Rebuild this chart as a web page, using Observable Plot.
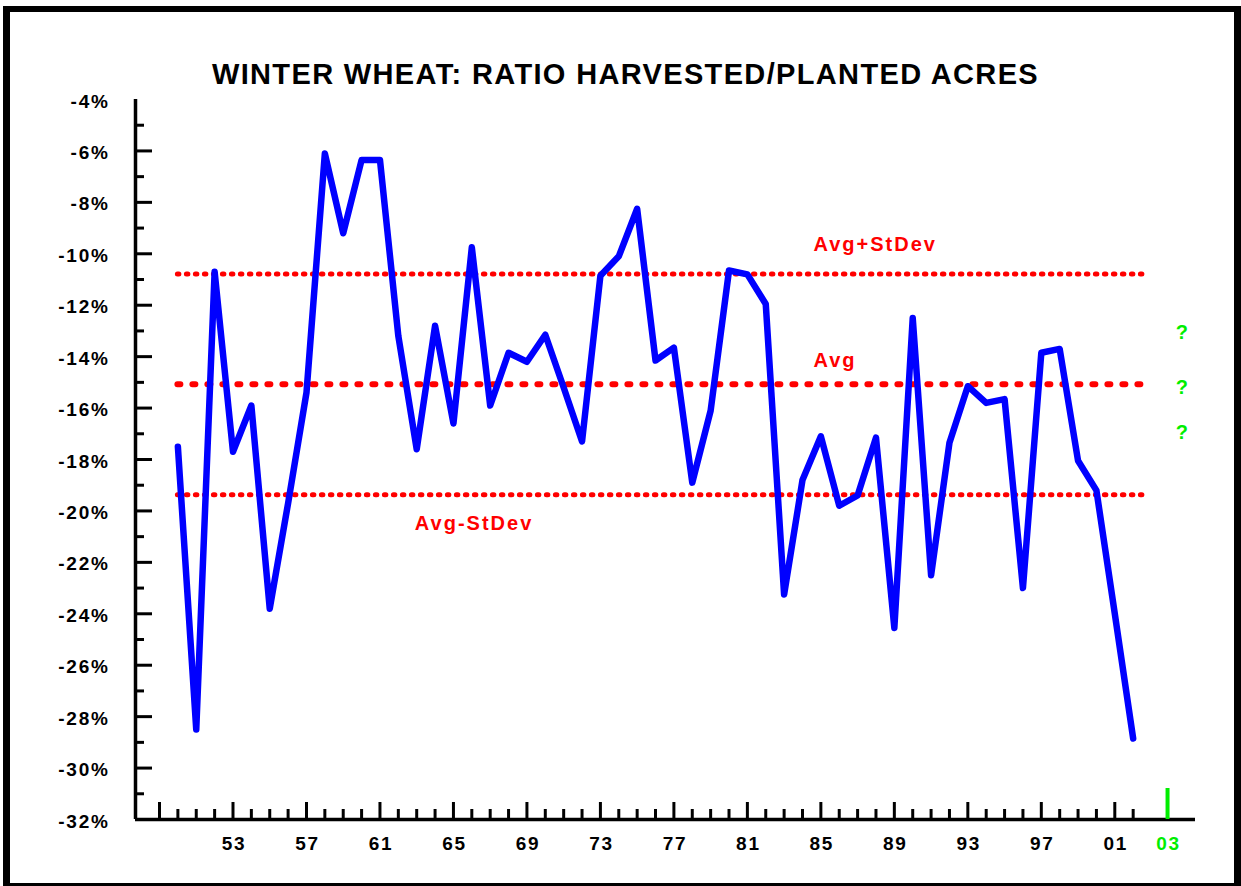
<!DOCTYPE html>
<html>
<head>
<meta charset="utf-8">
<script src="https://cdn.jsdelivr.net/npm/d3@7"></script>
<script src="https://cdn.jsdelivr.net/npm/@observablehq/plot@0.6"></script>
<style>
html, body { margin: 0; padding: 0; background: #fff; }
#wrap { position: relative; width: 1241px; height: 886px; overflow: hidden; background: #fff; }
#wrap svg { position: absolute; left: 0; top: 0; }
#border { position: absolute; left: 3px; top: 6px; width: 1238px; height: 880px; box-sizing: border-box;
  border-style: solid; border-color: #000; border-width: 6px 7px 3px 7px; pointer-events: none; }
</style>
</head>
<body>
<div id="wrap"><div id="border"></div></div>
<script>
// ---- Data ----
const titleText = "WINTER WHEAT: RATIO HARVESTED/PLANTED ACRES";

const years = [1950, 1951, 1952, 1953, 1954, 1955, 1956, 1957, 1958, 1959,
               1960, 1961, 1962, 1963, 1964, 1965, 1966, 1967, 1968, 1969,
               1970, 1971, 1972, 1973, 1974, 1975, 1976, 1977, 1978, 1979,
               1980, 1981, 1982, 1983, 1984, 1985, 1986, 1987, 1988, 1989,
               1990, 1991, 1992, 1993, 1994, 1995, 1996, 1997, 1998, 1999,
               2000, 2001, 2002];
const ratio = [-17.5, -28.5, -10.7, -17.7, -15.9, -23.8, -19.7, -15.4, -6.1, -9.2,
               -6.35, -6.35, -13.2, -17.6, -12.8, -16.6, -9.75, -15.9, -13.85, -14.2,
               -13.15, -15.2, -17.3, -10.85, -10.1, -8.25, -14.15, -13.65, -18.9, -16.1,
               -10.65, -10.8, -11.95, -23.25, -18.8, -17.1, -19.8, -19.4, -17.15, -24.55,
               -12.5, -22.5, -17.35, -15.15, -15.8, -15.65, -23.0, -13.85, -13.7, -18.05,
               -19.2, -24.0, -28.85];

const avgValue = -15.07;
const sdBandValues = [-10.79, -19.37];       // Avg+StDev, Avg-StDev
const refStart = 1950, refEnd = 2002.7;

const refLabels = ["Avg+StDev", "Avg", "Avg-StDev"];
const refLabelX = [1984.6, 1984.6, 1962.9];
const refLabelY = [-9.65, -14.14, -20.5];

const yLabelValues = [-32, -30, -28, -26, -24, -22, -20, -18, -16, -14, -12, -10, -8, -6, -4];
const yMajorTicks  = [-30, -28, -26, -24, -22, -20, -18, -16, -14, -12, -10, -8, -6];
const yMinorTicks  = [-31, -29, -27, -25, -23, -21, -19, -17, -15, -13, -11, -9, -7, -5];

const xMajorTicks  = [1949, 1953, 1957, 1961, 1965, 1969, 1973, 1977, 1981, 1985, 1989, 1993, 1997, 2001];
const xMinorTicks  = [1950, 1951, 1952, 1954, 1955, 1956, 1958, 1959, 1960, 1962, 1963, 1964,
                      1966, 1967, 1968, 1970, 1971, 1972, 1974, 1975, 1976, 1978, 1979, 1980,
                      1982, 1983, 1984, 1986, 1987, 1988, 1990, 1991, 1992, 1994, 1995, 1996,
                      1998, 1999, 2000, 2002];
const xLabelYears  = [1953, 1957, 1961, 1965, 1969, 1973, 1977, 1981, 1985, 1989, 1993, 1997, 2001];

const forecastYear = 2003;
const questionX = 2004.7;
const questionY = [-13.07, -15.21, -16.96];

// ---- Layout / style ----
const W = 1241, H = 886;
const mL = 135, mR = 46, mT = 99, mB = 67;
const frameW = W - mL - mR, frameH = H - mT - mB;
const FONT = "Liberation Sans, Arial, Helvetica, sans-serif";
const BLUE = "#0000ff", RED = "#ff0000", GREEN = "#00ee00";
const letterSpacingBySize = {29: 1.35, 20: 2, 19: 1.7};

const series = years.map((yr, i) => ({year: yr, value: ratio[i]}));
const refLabelRows = refLabels.map((t, i) => ({text: t, x: refLabelX[i], y: refLabelY[i]}));
const twoDigit = d => String(d % 100).padStart(2, "0");

const chart = Plot.plot({
  width: W,
  height: H,
  marginLeft: mL, marginRight: mR, marginTop: mT, marginBottom: mB,
  x: {domain: [1947.693, 2005.393], axis: null},
  y: {domain: [-32, -4], axis: null},
  style: {background: "transparent", overflow: "visible"},
  marks: [
    // axes lines
    Plot.ruleY([-32], {stroke: "#000", strokeWidth: 3.5}),
    Plot.ruleX([1947.693], {stroke: "#000", strokeWidth: 3.5}),
    // y ticks (inward)
    Plot.tickY(yMajorTicks, {y: d => d, stroke: "#000", strokeWidth: 3, insetRight: frameW - 17}),
    Plot.tickY(yMinorTicks, {y: d => d, stroke: "#000", strokeWidth: 3, insetRight: frameW - 9}),
    // x ticks (upward)
    Plot.tickX(xMajorTicks, {x: d => d, stroke: "#000", strokeWidth: 3, insetTop: frameH - 17}),
    Plot.tickX(xMinorTicks, {x: d => d, stroke: "#000", strokeWidth: 3, insetTop: frameH - 10}),
    Plot.tickX([forecastYear], {x: d => d, dx: 16, stroke: GREEN, strokeWidth: 4, insetTop: frameH - 31}),
    // tick labels
    Plot.text(yLabelValues, {y: d => d, text: d => `${d}%`, frameAnchor: "left", dx: -26, dy: 2,
      textAnchor: "end", fontSize: 19, fontWeight: "bold", fontFamily: FONT, fill: "#000"}),
    Plot.text(xLabelYears, {x: d => d, text: twoDigit, frameAnchor: "bottom", dy: 30, dx: 1,
      fontSize: 19, fontWeight: "bold", fontFamily: FONT, fill: "#000"}),
    Plot.text([forecastYear], {x: d => d, text: twoDigit, frameAnchor: "bottom", dy: 30, dx: 17,
      fontSize: 19, fontWeight: "bold", fontFamily: FONT, fill: GREEN}),
    // reference lines
    Plot.ruleY(sdBandValues, {y: d => d, x1: refStart, x2: refEnd, stroke: RED, strokeWidth: 5,
      strokeDasharray: "1.5,7.5", strokeLinecap: "round"}),
    Plot.ruleY([avgValue], {y: d => d, x1: refStart, x2: refEnd, stroke: RED, strokeWidth: 6,
      strokeDasharray: "3,12", strokeLinecap: "round"}),
    Plot.text(refLabelRows, {x: "x", y: "y", text: "text", textAnchor: "start",
      fontSize: 20, fontWeight: "bold", fontFamily: FONT, fill: RED}),
    // question marks
    Plot.text(questionY, {x: questionX, y: d => d, text: () => "?", fontSize: 20, fontWeight: "bold",
      fontFamily: FONT, fill: GREEN}),
    // data line
    Plot.line(series, {x: "year", y: "value", stroke: BLUE, strokeWidth: 6.5,
      strokeLinejoin: "round", strokeLinecap: "round"}),
    // title
    Plot.text([titleText], {text: d => d, frameAnchor: "top", dy: -36, dx: -40,
      fontSize: 29, fontWeight: "bold", fontFamily: FONT, fill: "#000"})
  ]
});

// letter spacing to match the reference's wide-set bold lettering
chart.querySelectorAll("g[font-size]").forEach(g => {
  const ls = letterSpacingBySize[parseFloat(g.getAttribute("font-size"))];
  if (ls) g.querySelectorAll("text").forEach(t => t.setAttribute("letter-spacing", ls + "px"));
});

document.getElementById("wrap").insertBefore(chart, document.getElementById("border"));
</script>
</body>
</html>
